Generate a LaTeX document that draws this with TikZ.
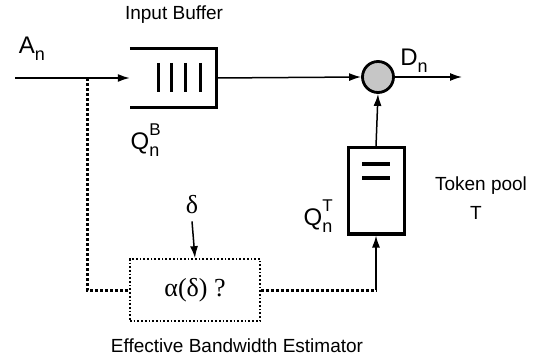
\documentclass[tikz,border=0pt]{standalone}
\usepackage{fontspec}
\setmainfont{Liberation Sans}
\setsansfont{Liberation Sans}
\newfontfamily\greekfont{Liberation Serif}
\usepackage{tikz}
\usetikzlibrary{positioning,arrows.meta}

% big letter with a subscript and an optional superscript
\newcommand{\idxsym}[3]{#1\makebox[0pt][l]{\raisebox{0.6em}{\fontsize{17}{17}\selectfont #3}}\raisebox{-0.28em}{\fontsize{18}{18}\selectfont #2}}

\begin{document}
\begin{tikzpicture}[
    x=1pt, y=-1pt,
    node distance=6pt and 8pt,
    qbox/.style={draw=none, minimum width=86pt, minimum height=58pt, inner sep=0pt},
    pool/.style={draw, line width=3pt, minimum width=56pt, minimum height=86pt, inner sep=0pt},
    mux/.style={draw, circle, line width=2.8pt, fill=gray!45, minimum size=31pt, inner sep=0pt},
    estbox/.style={draw, dotted, line width=1.7pt, minimum width=130pt, minimum height=62pt, inner sep=0pt},
    txt/.style={font=\fontsize{19}{21}\selectfont, inner sep=1pt},
    sym/.style={font=\fontsize{24}{26}\selectfont, inner sep=1pt},
    line/.style={-{Latex[length=12pt, width=8pt]}, line width=1.5pt},
    dotline/.style={dotted, line width=3pt}
]
\useasboundingbox (0,0) rectangle (538,358);

% queue, multiplexer and token pool
\node[qbox] (buf) at (173,78) {};
\draw[line width=3.2pt] (buf.north west) -- (buf.north east) -- (buf.south east) -- (buf.south west);
\foreach \bx in {158,171,185,200}
  \draw[line width=3pt] (\bx,63) -- (\bx,92);
\node[mux] (sum) at (378,77) {};
\node[pool] (tok) at (376,191) {};
\foreach \ty in {164,178}
  \draw[line width=3.2pt] (362,\ty) -- (390,\ty);
\node[estbox] (est) at (195,290) {\greekfont\fontsize{26}{28}\selectfont α(δ) ?};

% labels
\node[txt] (bufname) at (174,15) {Input Buffer};
\node[sym] (an) at (32,49) {\idxsym{A}{n}{}};
\node[sym] (dn) at (414,61) {\idxsym{D}{n}{}};
\node[sym] (qb) at (145,140) {\idxsym{Q}{n}{B}};
\node[sym] (qt) at (318,216) {\idxsym{Q}{n}{T}};
\node[txt] (tokname) at (481,186) {Token pool};
\node[txt] (tokT) at (476,213) {T};
\node[sym, font=\greekfont\fontsize{26}{28}\selectfont] (delta) at (192,205) {δ};
\node[txt] (estname) at (237,346) {Effective Bandwidth Estimator};

% connectors
\coordinate (ain) at (15,78);
\coordinate (tap) at (87,78);
\coordinate (dout) at (462,77);
\coordinate (bend) at (est.east -| tok.south);
\draw[line] (ain) -- (buf.west);
\draw[line] (buf.east) -- (sum.west);
\draw[line] (sum.east) -- (dout);
\draw[line] (tok.north) -- (sum.south);
\draw[line] ([yshift=-6pt]delta.south) -- (est.north);
\draw[dotline] (tap) |- (est.west);
\draw[dotline] (est.east) -- (bend);
\draw[line] (bend) -- (tok.south);
\end{tikzpicture}
\end{document}
